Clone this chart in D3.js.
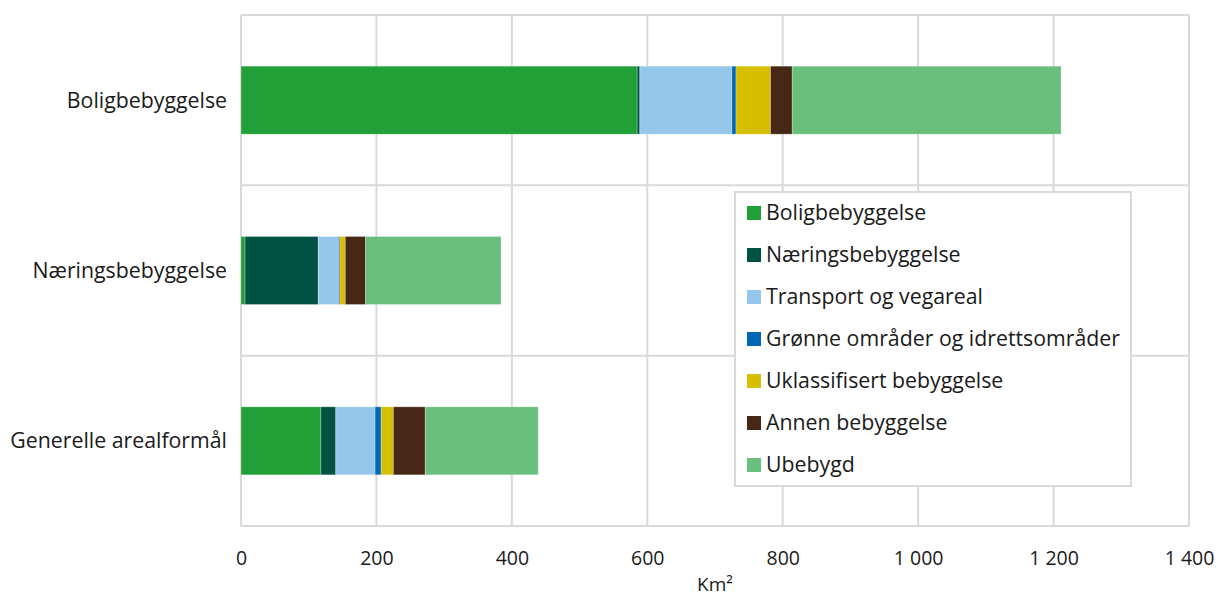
<!DOCTYPE html>
<html><head><meta charset="utf-8">
<script src="https://cdn.jsdelivr.net/npm/d3@7"></script>
<style>body{margin:0;background:#fff;font-family:"Open Sans",sans-serif;}</style>
</head><body><svg id="c" width="1218" height="598"></svg>
<script>
const categories = ["Boligbebyggelse","Næringsbebyggelse","Generelle arealformål"];
const seriesNames = ["Boligbebyggelse","Næringsbebyggelse","Transport og vegareal","Grønne områder og idrettsområder","Uklassifisert bebyggelse","Annen bebyggelse","Ubebygd"];
const colors = ["#21a038","#005342","#95c7ec","#0067b4","#d7bf00","#472715","#6abf7c"];
const boligValues = [585, 4, 136, 6, 51, 32, 397];
const naeringValues = [6, 108, 30, 2, 8, 30, 200];
const generelleValues = [118, 22, 58, 9, 18, 47, 167];
const xTicks = [0,200,400,600,800,1000,1200,1400];
const xTitle = "Km²";

const rows = [boligValues, naeringValues, generelleValues];
const svg = d3.select("#c");
const m = {l:241, r:1189, t:15, b:526};
const x = d3.scaleLinear().domain([0,1400]).range([m.l, m.r]);
const y = d3.scaleBand().domain(categories).range([m.t, m.b]).paddingInner(0).paddingOuter(0);
const grid = "#d9d9d9";

svg.append("g").selectAll("line").data(xTicks).join("line")
  .attr("x1",d=>x(d)).attr("x2",d=>x(d)).attr("y1",m.t).attr("y2",m.b)
  .attr("stroke",grid).attr("stroke-width",2);
const hs = [m.t, ...categories.slice(1).map(c=>y(c)), m.b];
svg.append("g").selectAll("line").data(hs).join("line")
  .attr("x1",m.l).attr("x2",m.r).attr("y1",d=>d).attr("y2",d=>d)
  .attr("stroke",grid).attr("stroke-width",2);

const barH = 68;
rows.forEach((vals,i)=>{
  let cum = 0;
  const cy = y(categories[i]) + y.bandwidth()/2;
  vals.forEach((v,j)=>{
    svg.append("rect").attr("x",x(cum)).attr("width",x(cum+v)-x(cum))
      .attr("y",cy-barH/2).attr("height",barH).attr("fill",colors[j])
      .attr("stroke","rgba(255,255,255,0.35)").attr("stroke-width",0.75);
    cum += v;
  });
});

const xa = d3.axisBottom(x).tickValues(xTicks).tickSize(0).tickPadding(0)
  .tickFormat(d=>d3.format(",")(d).replace(/,/g," "));
const gx = svg.append("g").attr("transform",`translate(0,${m.b})`).call(xa);
gx.select(".domain").remove();
gx.selectAll("text").attr("y",32).attr("dy","0.35em").attr("font-size",19.5).attr("font-family","Open Sans").attr("fill","#1a1a1a");
svg.append("text").attr("x",(m.l+m.r)/2).attr("y",591).attr("text-anchor","middle")
  .attr("font-size",19).attr("fill","#1a1a1a").text(xTitle);

svg.append("g").selectAll("text").data(categories).join("text")
  .attr("x",227).attr("y",d=>y(d)+y.bandwidth()/2).attr("dy","0.35em")
  .attr("text-anchor","end").attr("font-size",21.3).attr("fill","#1a1a1a").text(d=>d);

const lg = svg.append("g");
lg.append("rect").attr("x",735).attr("y",192).attr("width",396).attr("height",294)
  .attr("fill","#fff").attr("stroke",grid).attr("stroke-width",2);
seriesNames.forEach((n,i)=>{
  const cy = 213 + i*42;
  lg.append("rect").attr("x",747).attr("y",cy-7).attr("width",14).attr("height",14).attr("fill",colors[i]);
  lg.append("text").attr("x",766).attr("y",cy).attr("dy","0.35em").attr("font-size",21.3).attr("fill","#1a1a1a").text(n);
});
</script></body></html>
